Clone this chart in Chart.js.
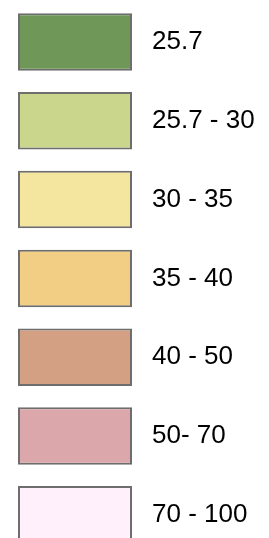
<!DOCTYPE html>
<html>
<head>
<meta charset="utf-8">
<script src="https://cdn.jsdelivr.net/npm/chart.js@4"></script>
<style>
  html, body { margin: 0; padding: 0; background: #fff; overflow: hidden; }
  #wrap { width: 269px; height: 556px; position: relative; }
</style>
</head>
<body>
<div id="wrap"><canvas id="legend"></canvas></div>
<script>
// legend classes (top to bottom)
var classLabels = ['25.7', '25.7 - 30', '30 - 35', '35 - 40', '40 - 50', '50- 70', '70 - 100'];
var classColors = ['#6f9758', '#c9d68c', '#f5e69f', '#f2cd84', '#d3a083', '#dba7aa', '#fff0fc'];
var swatchValues = [1, 1, 1, 1, 1, 1, 1];

document.addEventListener("DOMContentLoaded", function () {
    var ctx = document.getElementById('legend').getContext('2d');

    new Chart(ctx, {
        type: 'bar',
        data: {
            labels: classLabels,
            datasets: [{
                data: swatchValues,
                backgroundColor: classColors,
                borderColor: '#6e6e6e',
                borderWidth: 2,
                borderSkipped: false,
                barPercentage: 0.73,
                categoryPercentage: 1
            }]
        },
        options: {
            indexAxis: 'y',
            responsive: true,
            maintainAspectRatio: false,
            animation: false,
            layout: { padding: { left: 18, top: 2.6, bottom: 1.8, right: 0 } },
            plugins: { legend: { display: false }, tooltip: { enabled: false } },
            scales: {
                x: { display: false, min: 0, max: 1 },
                y: {
                    position: 'right',
                    grid: { display: false, drawTicks: false },
                    border: { display: false },
                    ticks: {
                        padding: 20,
                        color: '#000',
                        font: { family: 'Liberation Sans, Arial, sans-serif', size: 26 }
                    },
                    afterFit: function (scale) {
                        scale.width = 137;
                        // labels sit inside the bands, so no extra room is needed
                        scale.paddingTop = 0;
                        scale.paddingBottom = 0;
                    }
                }
            }
        }
    });
});
</script>
</body>
</html>
